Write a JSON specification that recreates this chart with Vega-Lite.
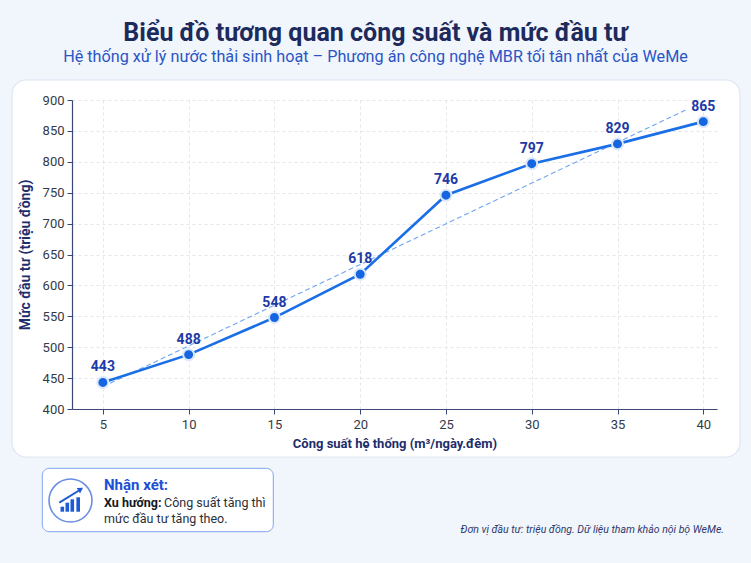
{
  "$schema": "https://vega.github.io/schema/vega-lite/v6.json",
  "width": 645,
  "height": 309,
  "autosize": "none",
  "padding": {"left": 72, "top": 100, "right": 34, "bottom": 154},
  "background": "#ffffff",
  "config": {
    "font": "Roboto",
    "view": {"stroke": null},
    "axis": {
      "labelFont": "Roboto",
      "labelFontSize": 13,
      "labelColor": "#333a48",
      "titleFont": "Roboto",
      "titleFontSize": 13,
      "titleFontWeight": "bold",
      "titleColor": "#1e2d6b",
      "domainColor": "#3a4777",
      "domainWidth": 1.2,
      "tickColor": "#3a4777",
      "tickSize": 5,
      "gridColor": "#dcdfe6",
      "gridDash": [3, 3],
      "gridWidth": 0.8
    },
    "axisY": {"titleFontSize": 14}
  },
  "data": {
    "values": [
      {"cap": 5, "von": 443},
      {"cap": 10, "von": 488},
      {"cap": 15, "von": 548},
      {"cap": 20, "von": 618},
      {"cap": 25, "von": 746},
      {"cap": 30, "von": 797},
      {"cap": 35, "von": 829},
      {"cap": 40, "von": 865}
    ]
  },
  "layer": [
    {
      "transform": [{"regression": "von", "on": "cap", "extent": [5, 39]}],
      "mark": {"type": "line", "color": "#6ea6f2", "strokeWidth": 1.1, "strokeDash": [5, 3]},
      "encoding": {
        "x": {
          "field": "cap",
          "type": "quantitative",
          "scale": {"domain": [3.2, 40.8], "nice": false, "zero": false},
          "axis": {
            "title": "Công suất hệ thống (m³/ngày.đêm)",
            "values": [5, 10, 15, 20, 25, 30, 35, 40],
            "grid": true,
            "titlePadding": 6,
            "labelPadding": 4
          }
        },
        "y": {
          "field": "von",
          "type": "quantitative",
          "scale": {"domain": [400, 900], "nice": false, "zero": false},
          "axis": {
            "title": "Mức đầu tư (triệu đồng)",
            "values": [400, 450, 500, 550, 600, 650, 700, 750, 800, 850, 900],
            "grid": true,
            "titlePadding": 10,
            "labelPadding": 3
          }
        }
      }
    },
    {
      "mark": {"type": "line", "color": "#1a6ee6", "strokeWidth": 2.6},
      "encoding": {
        "x": {
          "field": "cap",
          "type": "quantitative",
          "scale": {"domain": [3.2, 40.8], "nice": false, "zero": false},
          "axis": {
            "title": "Công suất hệ thống (m³/ngày.đêm)",
            "values": [5, 10, 15, 20, 25, 30, 35, 40],
            "grid": true,
            "titlePadding": 6,
            "labelPadding": 4
          }
        },
        "y": {
          "field": "von",
          "type": "quantitative",
          "scale": {"domain": [400, 900], "nice": false, "zero": false},
          "axis": {
            "title": "Mức đầu tư (triệu đồng)",
            "values": [400, 450, 500, 550, 600, 650, 700, 750, 800, 850, 900],
            "grid": true,
            "titlePadding": 10,
            "labelPadding": 3
          }
        }
      }
    },
    {
      "mark": {"type": "point", "filled": true, "color": "#1565e0", "size": 120, "stroke": "#dbe7fb", "strokeWidth": 2, "opacity": 1},
      "encoding": {
        "x": {"field": "cap", "type": "quantitative"},
        "y": {"field": "von", "type": "quantitative", "axis": {"values": [400, 450, 500, 550, 600, 650, 700, 750, 800, 850, 900]}}
      }
    },
    {
      "mark": {"type": "text", "dy": -15, "font": "Roboto", "fontSize": 14, "fontWeight": "bold", "color": "#1d3aa6"},
      "encoding": {
        "x": {"field": "cap", "type": "quantitative"},
        "y": {"field": "von", "type": "quantitative", "axis": {"values": [400, 450, 500, 550, 600, 650, 700, 750, 800, 850, 900]}},
        "text": {"field": "von", "type": "quantitative"}
      }
    },
    {
      "data": {"values": [{}]},
      "mark": {"type": "rect", "fill": null, "stroke": "#f1f5fc", "strokeWidth": 220, "cornerRadius": 124, "clip": false},
      "encoding": {
        "x": {"datum": -6.71, "type": "quantitative"},
        "x2": {"datum": 48.554},
        "y": {"datum": 1110.36, "type": "quantitative", "axis": {"values": [400, 450, 500, 550, 600, 650, 700, 750, 800, 850, 900]}},
        "y2": {"datum": 144.34}
      }
    },
    {
      "data": {"values": [{}]},
      "mark": {"type": "rect", "fill": null, "stroke": "#dde5f3", "strokeWidth": 1.2, "cornerRadius": 14, "clip": false},
      "encoding": {
        "x": {"datum": -0.298, "type": "quantitative"},
        "x2": {"datum": 42.14},
        "y": {"datum": 932.4, "type": "quantitative", "axis": {"values": [400, 450, 500, 550, 600, 650, 700, 750, 800, 850, 900]}},
        "y2": {"datum": 322.3}
      }
    },
    {
      "data": {"values": [{}]},
      "mark": {"type": "text", "text": "Biểu đồ tương quan công suất và mức đầu tư", "align": "center", "baseline": "middle", "font": "Roboto", "fontSize": 25, "fontWeight": "bold", "color": "#1c2a5c", "clip": false},
      "encoding": {
        "x": {"datum": 20.893, "type": "quantitative"},
        "y": {"datum": 1008.41, "type": "quantitative", "axis": {"values": [400, 450, 500, 550, 600, 650, 700, 750, 800, 850, 900]}}
      }
    },
    {
      "data": {"values": [{}]},
      "mark": {"type": "text", "text": "Hệ thống xử lý nước thải sinh hoạt – Phương án công nghệ MBR tối tân nhất của WeMe", "align": "center", "baseline": "middle", "font": "Roboto", "fontSize": 16.2, "color": "#2a55c4", "clip": false},
      "encoding": {
        "x": {"datum": 20.893, "type": "quantitative"},
        "y": {"datum": 969.58, "type": "quantitative", "axis": {"values": [400, 450, 500, 550, 600, 650, 700, 750, 800, 850, 900]}}
      }
    },
    {
      "data": {"values": [{}]},
      "mark": {"type": "rect", "fill": "#ffffff", "stroke": "#7ea3ee", "strokeWidth": 1, "cornerRadius": 7, "clip": false},
      "encoding": {
        "x": {"datum": 1.469, "type": "quantitative"},
        "x2": {"datum": 14.935},
        "y": {"datum": 304.0, "type": "quantitative", "axis": {"values": [400, 450, 500, 550, 600, 650, 700, 750, 800, 850, 900]}},
        "y2": {"datum": 201.5}
      }
    },
    {
      "data": {"values": [{}]},
      "mark": {"type": "point", "shape": "circle", "filled": false, "size": 1849, "stroke": "#2c5fd3", "strokeWidth": 1.6, "clip": false},
      "encoding": {
        "x": {"datum": 3.113, "type": "quantitative"},
        "y": {"datum": 251.9, "type": "quantitative", "axis": {"values": [400, 450, 500, 550, 600, 650, 700, 750, 800, 850, 900]}}
      }
    },
    {
      "data": {"values": [{}]},
      "mark": {"type": "rule", "stroke": "#1d5ad6", "strokeWidth": 3.6, "clip": false},
      "encoding": {
        "x": {"datum": 2.635, "type": "quantitative"},
        "y": {"datum": 233.8, "type": "quantitative", "axis": {"values": [400, 450, 500, 550, 600, 650, 700, 750, 800, 850, 900]}},
        "y2": {"datum": 241.9}
      }
    },
    {
      "data": {"values": [{}]},
      "mark": {"type": "rule", "stroke": "#1d5ad6", "strokeWidth": 3.6, "clip": false},
      "encoding": {
        "x": {"datum": 2.926, "type": "quantitative"},
        "y": {"datum": 233.8, "type": "quantitative", "axis": {"values": [400, 450, 500, 550, 600, 650, 700, 750, 800, 850, 900]}},
        "y2": {"datum": 248.4}
      }
    },
    {
      "data": {"values": [{}]},
      "mark": {"type": "rule", "stroke": "#1d5ad6", "strokeWidth": 3.6, "clip": false},
      "encoding": {
        "x": {"datum": 3.217, "type": "quantitative"},
        "y": {"datum": 233.8, "type": "quantitative", "axis": {"values": [400, 450, 500, 550, 600, 650, 700, 750, 800, 850, 900]}},
        "y2": {"datum": 253.9}
      }
    },
    {
      "data": {"values": [{}]},
      "mark": {"type": "rule", "stroke": "#1d5ad6", "strokeWidth": 3.6, "clip": false},
      "encoding": {
        "x": {"datum": 3.561, "type": "quantitative"},
        "y": {"datum": 233.8, "type": "quantitative", "axis": {"values": [400, 450, 500, 550, 600, 650, 700, 750, 800, 850, 900]}},
        "y2": {"datum": 257.1}
      }
    },
    {
      "data": {"values": [{}]},
      "mark": {"type": "rule", "stroke": "#1d5ad6", "strokeWidth": 2, "clip": false},
      "encoding": {
        "x": {"datum": 2.46, "type": "quantitative"},
        "x2": {"datum": 3.608},
        "y": {"datum": 248.4, "type": "quantitative", "axis": {"values": [400, 450, 500, 550, 600, 650, 700, 750, 800, 850, 900]}},
        "y2": {"datum": 268.1}
      }
    },
    {
      "data": {"values": [{}]},
      "mark": {"type": "point", "shape": "triangle-right", "filled": true, "size": 40, "color": "#1d5ad6", "angle": 328, "opacity": 1, "clip": false},
      "encoding": {
        "x": {"datum": 3.707, "type": "quantitative"},
        "y": {"datum": 270.1, "type": "quantitative", "axis": {"values": [400, 450, 500, 550, 600, 650, 700, 750, 800, 850, 900]}}
      }
    },
    {
      "data": {"values": [{}]},
      "mark": {"type": "text", "text": "Nhận xét:", "align": "left", "baseline": "middle", "font": "Roboto", "fontSize": 15, "fontWeight": "bold", "color": "#1d4fd6", "clip": false},
      "encoding": {
        "x": {"datum": 5.065, "type": "quantitative"},
        "y": {"datum": 277.0, "type": "quantitative", "axis": {"values": [400, 450, 500, 550, 600, 650, 700, 750, 800, 850, 900]}}
      }
    },
    {
      "data": {"values": [{}]},
      "mark": {"type": "text", "text": "Xu hướng:", "align": "left", "baseline": "middle", "font": "Roboto", "fontSize": 12.5, "fontWeight": "bold", "color": "#141821", "clip": false},
      "encoding": {
        "x": {"datum": 5.065, "type": "quantitative"},
        "y": {"datum": 248.4, "type": "quantitative", "axis": {"values": [400, 450, 500, 550, 600, 650, 700, 750, 800, 850, 900]}}
      }
    },
    {
      "data": {"values": [{}]},
      "mark": {"type": "text", "text": "Công suất tăng thì", "align": "left", "baseline": "middle", "font": "Roboto", "fontSize": 12.5, "color": "#2a2f3a", "clip": false},
      "encoding": {
        "x": {"datum": 8.563, "type": "quantitative"},
        "y": {"datum": 248.4, "type": "quantitative", "axis": {"values": [400, 450, 500, 550, 600, 650, 700, 750, 800, 850, 900]}}
      }
    },
    {
      "data": {"values": [{}]},
      "mark": {"type": "text", "text": "mức đầu tư tăng theo.", "align": "left", "baseline": "middle", "font": "Roboto", "fontSize": 12.5, "color": "#2a2f3a", "clip": false},
      "encoding": {
        "x": {"datum": 5.065, "type": "quantitative"},
        "y": {"datum": 221.5, "type": "quantitative", "axis": {"values": [400, 450, 500, 550, 600, 650, 700, 750, 800, 850, 900]}}
      }
    },
    {
      "data": {"values": [{}]},
      "mark": {"type": "text", "text": "Đơn vị đầu tư: triệu đồng. Dữ liệu tham khảo nội bộ WeMe.", "align": "right", "baseline": "middle", "font": "Roboto", "fontSize": 10.5, "fontStyle": "italic", "color": "#2b3a6e", "clip": false},
      "encoding": {
        "x": {"datum": 41.208, "type": "quantitative"},
        "y": {"datum": 204.2, "type": "quantitative", "axis": {"values": [400, 450, 500, 550, 600, 650, 700, 750, 800, 850, 900]}}
      }
    }
  ]
}
